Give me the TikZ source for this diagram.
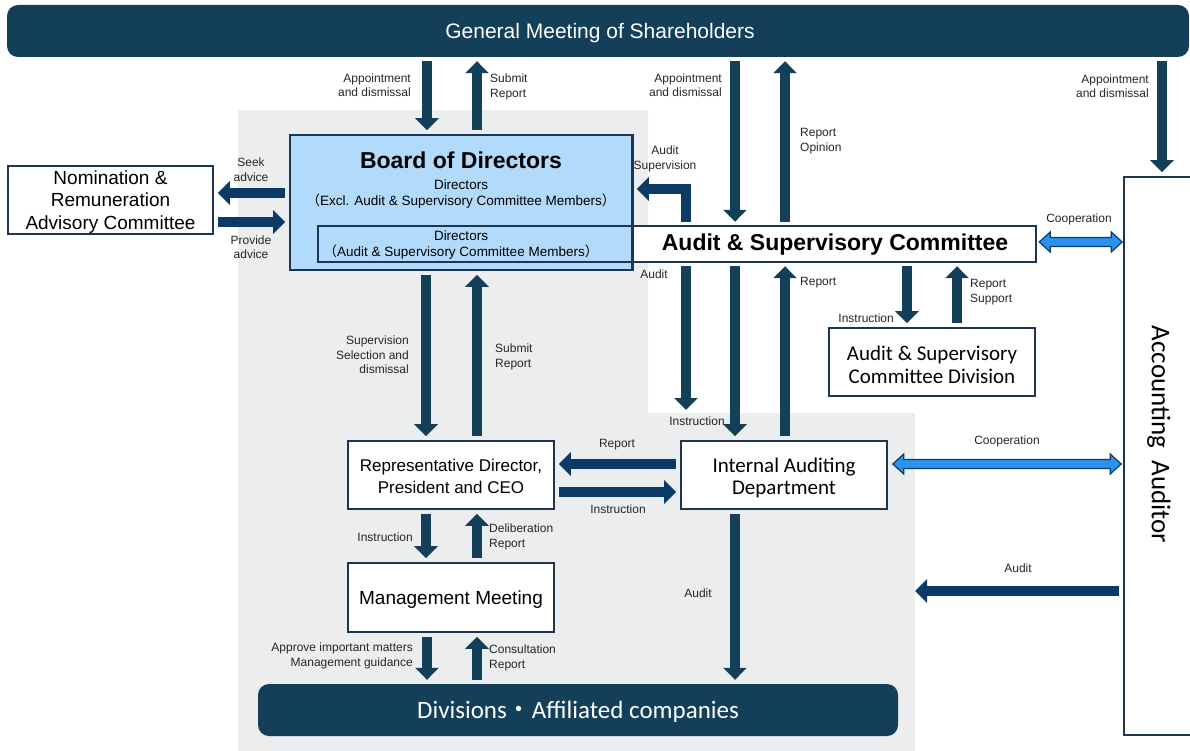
\documentclass[tikz,border=0pt]{standalone}
\usepackage{fontspec}
\setmainfont{Liberation Sans}
\newfontfamily\calfont{Carlito}
\newfontfamily\cjkfont{Noto Sans CJK JP}
\usetikzlibrary{arrows.meta,calc}
\definecolor{navy}{HTML}{133F58}
\definecolor{navyb}{HTML}{0C3A67}
\definecolor{boxline}{HTML}{1C3652}
\definecolor{boardfill}{HTML}{B2DAFA}
\definecolor{bggrey}{HTML}{ECEDEF}
\definecolor{coopfill}{HTML}{2A93F0}
\definecolor{labelcol}{HTML}{262626}
\newcommand\coopline[2]{%
  \filldraw[coop] let \p1=#1, \p2=#2 in
    (\x1,\y1) -- (\x1+11pt,\y1+10pt) -- (\x1+11pt,\y1+4.5pt) -- (\x2-11pt,\y1+4.5pt)
    -- (\x2-11pt,\y1+10pt) -- (\x2,\y1) -- (\x2-11pt,\y1-10pt) -- (\x2-11pt,\y1-4.5pt)
    -- (\x1+11pt,\y1-4.5pt) -- (\x1+11pt,\y1-10pt) -- cycle;}
\begin{document}
\begin{tikzpicture}[x=1pt,y=-1pt,
  box/.style={draw=boxline, line width=1.6pt, fill=white, inner sep=0pt},
  txt/.style={inner sep=0pt, align=center},
  lbl/.style={font=\fontsize{12}{14.5}\selectfont, text=labelcol, inner sep=0pt},
  barrow/.style={color=navy, line width=10.5pt, -{Triangle[width=23pt,length=12pt]}, shorten <=4pt, shorten >=4pt},
  barrowb/.style={barrow, color=navyb},
  coop/.style={draw=navyb, line width=1.2pt, fill=coopfill, line join=miter},
]
\useasboundingbox (0,0) rectangle (1190,751);
\clip (0,0) rectangle (1190,751);
% background
\fill[bggrey] (238,110) -- (648,110) -- (648,413) -- (915,413) -- (915,751) -- (238,751) -- cycle;

% general meeting
\node[fill=navy, rounded corners=11pt, minimum width=1182pt, minimum height=52pt, inner sep=0pt] (gm) at (598,31) {};
\node[txt, text=white, font=\fontsize{21}{25}\selectfont] (gmt) at (600,33) {General Meeting of Shareholders};

% board of directors
\node[box, fill=boardfill, minimum width=342pt, minimum height=135pt] (board) at (461,202.5) {};
\node[inner sep=0pt, minimum width=718pt, minimum height=36pt] (asc) at (677,244) {};
\fill[white] (board.east |- asc.north) rectangle (asc.south east);
\draw[boxline, line width=1.6pt] (asc.north west) rectangle (asc.south east);
\draw[boxline, line width=1.6pt] (board.north east) -- (board.south east);
\node[font=\bfseries\fontsize{23}{27}\selectfont, inner sep=0pt] (boardt) at (461,160) {Board of Directors};
\node[font=\fontsize{13.5}{16}\selectfont, inner sep=0pt] (dir1) at (461,185) {Directors};
\node[font=\fontsize{13.5}{16}\selectfont, inner sep=0pt] (dir1b) at (461,201) {{\cjkfont （}Excl. Audit \& Supervisory Committee Members{\cjkfont ）}};
\node[font=\fontsize{13.5}{16}\selectfont, inner sep=0pt] (dir2) at (461,236) {Directors};
\node[font=\fontsize{13.5}{16}\selectfont, inner sep=0pt] (dir2b) at (461,252) {{\cjkfont （}Audit \& Supervisory Committee Members{\cjkfont ）}};
\node[font=\bfseries\fontsize{23}{27}\selectfont, inner sep=0pt] (asct) at (835,245) {Audit \& Supervisory Committee};

% other boxes
\node[box, minimum width=205pt, minimum height=68pt] (nom) at (110.5,200) {};
\node[txt, font=\fontsize{19}{22.5}\selectfont] (nomt) at (110.5,202) {Nomination \&\\Remuneration\\Advisory Committee};
\node[box, minimum width=206pt, minimum height=68pt] (ascd) at (932,362) {};
\node[txt, font=\calfont\fontsize{21}{23}\selectfont] (ascdt) at (932,364.5) {Audit \& Supervisory\\Committee Division};
\node[box, minimum width=206pt, minimum height=68pt] (ceo) at (451,475) {};
\node[txt, font=\fontsize{17}{22}\selectfont] (ceot) at (451,476.5) {Representative Director,\\President and CEO};
\node[box, minimum width=206pt, minimum height=68pt] (iad) at (784,475) {};
\node[txt, font=\calfont\fontsize{21}{22}\selectfont] (iadt) at (784,478) {Internal Auditing\\Department};
\node[box, minimum width=206pt, minimum height=69pt] (mm) at (451,597.5) {};
\node[txt, font=\fontsize{19}{22}\selectfont] (mmt) at (451,600) {Management Meeting};
\node[fill=navy, rounded corners=11pt, minimum width=640pt, minimum height=52pt, inner sep=0pt] (div) at (578,710) {};
\node[txt, text=white, font=\calfont\fontsize{25}{30}\selectfont] (divt) at (578,712) {Divisions{\cjkfont ・}Affiliated companies};
\node[box, minimum width=76pt, minimum height=558pt] (aa) at (1162,456) {};
\node[rotate=-90, inner sep=0pt, font=\calfont\fontsize{27}{30}\selectfont] (aat) at (1159,434.5) {Accounting\ \ Auditor};

% free ends
\coordinate (auditend) at (686,414);
\coordinate (auditaa) at (911,591);

% arrows
\draw[barrow] (427,0 |- gm.south) -- (427,0 |- board.north);
\draw[barrow] (477,0 |- board.north) -- (477,0 |- gm.south);
\draw[barrow] (735,0 |- gm.south) -- (735,0 |- asc.north);
\draw[barrow] (785,0 |- asc.north) -- (785,0 |- gm.south);
\draw[barrow] (1162,0 |- gm.south) -- (1162,0 |- aa.north);
\draw[barrowb] (686,0 |- asc.north) |- (board.east |- 0,189);
\draw[barrowb] (board.west |- 0,193) -- (nom.east |- 0,193);
\draw[barrowb] (nom.east |- 0,222) -- (board.west |- 0,222);
\draw[barrow] (686,0 |- asc.south) -- (auditend);
\draw[barrow] (735,0 |- asc.south) -- (735,0 |- iad.north);
\draw[barrow] (785,0 |- iad.north) -- (785,0 |- asc.south);
\draw[barrow] (907,0 |- asc.south) -- (907,0 |- ascd.north);
\draw[barrow] (957,0 |- ascd.north) -- (957,0 |- asc.south);
\draw[barrowb] (aa.west |- 0,591) -- (auditaa);
\draw[barrow] (735,0 |- iad.south) -- (735,0 |- div.north);
\draw[barrowb] (iad.west |- 0,464) -- (ceo.east |- 0,464);
\draw[barrowb] (ceo.east |- 0,492) -- (iad.west |- 0,492);
\draw[barrow] (426,0 |- board.south) -- (426,0 |- ceo.north);
\draw[barrow] (477,0 |- ceo.north) -- (477,0 |- board.south);
\draw[barrow] (426,0 |- ceo.south) -- (426,0 |- mm.north);
\draw[barrow] (477,0 |- mm.north) -- (477,0 |- ceo.south);
\draw[barrow] (427,0 |- mm.south) -- (427,0 |- div.north);
\draw[barrow] (477,0 |- div.north) -- (477,0 |- mm.south);
\coopline{($(asc.east)+(3,-2)$)}{($(aa.west |- asc.east)+(-1,-2)$)}
\coopline{($(iad.east |- 0,464)+(5,0)$)}{($(aa.west |- 0,464)+(-2,0)$)}

% labels
\node[lbl, align=right, anchor=east] (l1) at (411,85) {Appointment\\and dismissal};
\node[lbl, align=left, anchor=west] (l2) at (490,87) {Submit\\Report};
\node[lbl, align=right, anchor=east] (l3) at (722,85) {Appointment\\and dismissal};
\node[lbl, align=left, anchor=west] (l4) at (800,141) {Report\\Opinion};
\node[lbl, align=right, anchor=east] (l5) at (1149,86) {Appointment\\and dismissal};
\node[lbl, align=center] (l6) at (665,159) {Audit\\Supervision};
\node[lbl, align=center] (l7) at (251,169.5) {Seek\\advice};
\node[lbl, align=center] (l8) at (251,247) {Provide\\advice};
\node[lbl] (l9) at (1079,219) {Cooperation};
\node[lbl] (l10) at (654,274) {Audit};
\node[lbl, anchor=west] (l11) at (800,283) {Report};
\node[lbl, anchor=east] (l12) at (894,318) {Instruction};
\node[lbl, align=left, anchor=west] (l13) at (970,292) {Report\\Support};
\node[lbl] (l14) at (697,421) {Instruction};
\node[lbl] (l15) at (1007,441) {Cooperation};
\node[lbl] (l16) at (1018,568) {Audit};
\node[lbl] (l17) at (698,593) {Audit};
\node[lbl] (l18) at (617,445) {Report};
\node[lbl] (l19) at (618,509) {Instruction};
\node[lbl, align=right, anchor=east] (l20) at (409,355) {Supervision\\Selection and\\dismissal};
\node[lbl, align=left, anchor=west] (l21) at (495,357) {Submit\\Report};
\node[lbl, anchor=east] (l22) at (413,537) {Instruction};
\node[lbl, align=left, anchor=west] (l23) at (489,537) {Deliberation\\Report};
\node[lbl, align=right, anchor=east] (l24) at (413,656) {Approve important matters\\Management guidance};
\node[lbl, align=left, anchor=west] (l25) at (489,658) {Consultation\\Report};
\end{tikzpicture}
\end{document}
